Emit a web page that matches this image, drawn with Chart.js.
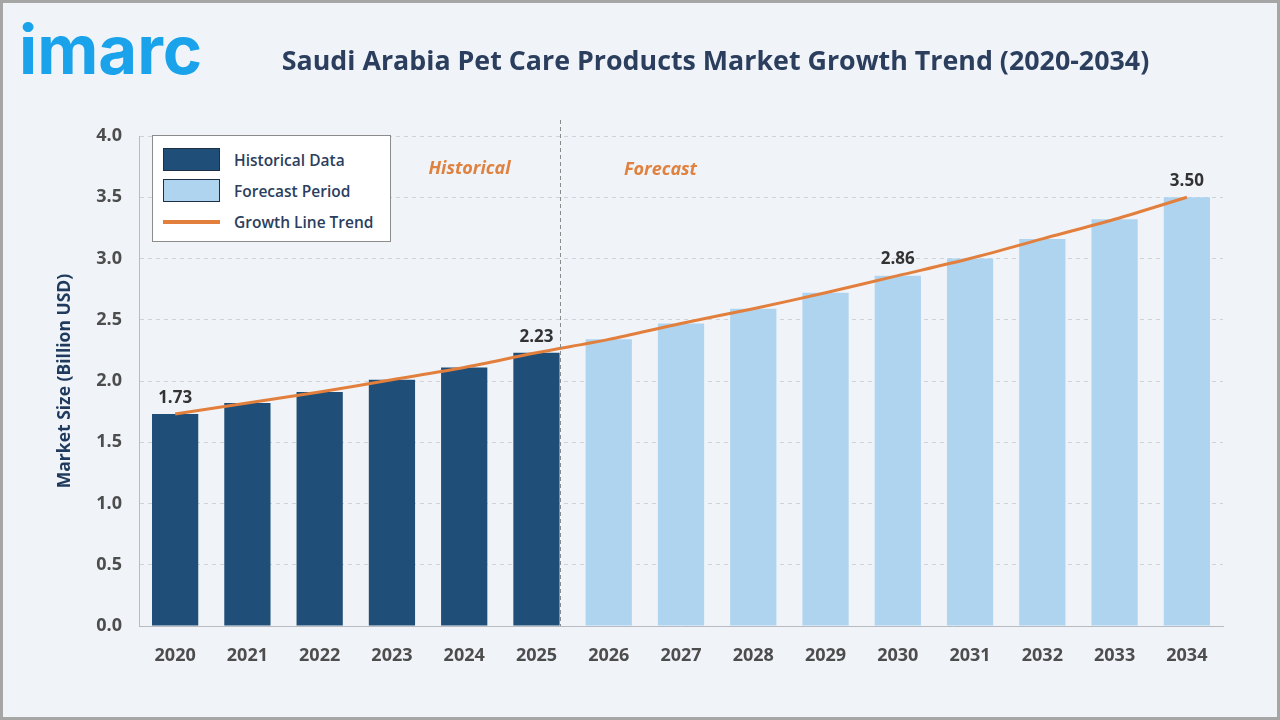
<!DOCTYPE html>
<html>
<head>
<meta charset="utf-8">
<script src="https://cdn.jsdelivr.net/npm/chart.js@4.4.0/dist/chart.umd.min.js"></script>
<style>
  html, body { margin: 0; padding: 0; }
  body { width: 1280px; height: 720px; overflow: hidden; background: #f0f4f9; font-family: "Open Sans", sans-serif; }
  #frame { position: absolute; left: 0; top: 0; width: 1274px; height: 714px; border: 3px solid #a6a6a6; background: #f0f4f9; }
  #chart { position: absolute; left: -3px; top: -3px; }
  #logo { position: absolute; left: 16px; top: 7px; font-family: Inter, sans-serif; font-weight: 700; font-size: 67px; color: #1aa3ea; line-height: 80px; }
  #title { position: absolute; left: 278px; top: 37px; width: 869px; text-align: center; white-space: nowrap; font-weight: 700; color: #2b3e5e; line-height: 40px; }
  #legend { position: absolute; left: 149px; top: 132px; width: 237px; height: 105px; background: #ffffff; border: 1px solid #8c8c8c; }
  .item { position: absolute; left: 10px; height: 24px; display: flex; align-items: center; font-size: 15.5px; font-weight: 600; color: #2b3e5e; white-space: nowrap; }
  .sw { width: 57px; height: 23px; margin-right: 14px; box-sizing: border-box; border: 1px solid #1c2f45; }
  .ln { width: 57px; height: 4px; margin-right: 14px; }
</style>
</head>
<body>
<div id="frame">
  <canvas id="chart" width="1280" height="720"></canvas>
  <div id="logo">imarc</div>
  <div id="title">Saudi Arabia Pet Care Products Market Growth Trend (2020-2034)</div>
  <div id="legend"></div>
</div>
<script>
const years = ['2020', '2021', '2022', '2023', '2024', '2025', '2026', '2027',
               '2028', '2029', '2030', '2031', '2032', '2033', '2034'];
const historical = [1.73, 1.82, 1.91, 2.01, 2.11, 2.23];
const forecast = [2.34, 2.47, 2.59, 2.72, 2.86, 3.00, 3.16, 3.32, 3.50];
const trendLine = [1.73, 1.82, 1.91, 2.01, 2.11, 2.23, 2.34, 2.47, 2.59, 2.72, 2.86, 3.00, 3.16, 3.32, 3.50];
const labelledYears = ['2020', '2025', '2030', '2034'];
const yTicks = [0, 0.5, 1.0, 1.5, 2.0, 2.5, 3.0, 3.5, 4.0];

const histColor = '#1f4e78';
const foreColor = '#aed4ef';
const lineColor = '#e37f3c';

// fit title text to the width it takes in the picture
(function fitTitle() {
  const el = document.getElementById('title');
  const c = document.createElement('canvas').getContext('2d');
  c.font = '700 26px "Open Sans"';
  const w = c.measureText(el.textContent).width;
  el.style.fontSize = Math.min(27, 26 * 869 / w).toFixed(1) + 'px';
})();

const histData = years.map((y, i) => i < historical.length ? historical[i] : null);
const foreData = years.map((y, i) => i >= historical.length ? forecast[i - historical.length] : null);

// labels over chosen bars, divider line and period captions
const overlay = {
  id: 'overlay',
  afterDatasetsDraw(chart) {
    const ctx = chart.ctx;
    const area = chart.chartArea;
    ctx.save();
    ctx.font = '700 17px "Open Sans"';
    ctx.fillStyle = '#333333';
    ctx.textAlign = 'center';
    ctx.textBaseline = 'middle';
    labelledYears.forEach(y => {
      const i = years.indexOf(y);
      const dsIndex = i < historical.length ? 0 : 1;
      const bar = chart.getDatasetMeta(dsIndex).data[i];
      ctx.fillText(trendLine[i].toFixed(2), bar.x, bar.y - 16);
    });

    const last = chart.getDatasetMeta(0).data[historical.length - 1];
    const dx = Math.round(last.x + last.width / 2) + 0.5;
    ctx.strokeStyle = '#8a8a8a';
    ctx.lineWidth = 1;
    ctx.setLineDash([4, 3]);
    ctx.beginPath();
    ctx.moveTo(dx, area.top - 16);
    ctx.lineTo(dx, area.bottom);
    ctx.stroke();
    ctx.setLineDash([]);

    ctx.font = 'italic 700 18px "Open Sans"';
    ctx.fillStyle = '#e0823f';
    ctx.fillText('Historical', dx - 91, area.top + 33);
    ctx.fillText('Forecast', dx + 100, area.top + 34);
    ctx.restore();
  }
};

const chart = new Chart(document.getElementById('chart'), {
  type: 'bar',
  data: {
    labels: years,
    datasets: [
      {
        label: 'Historical Data',
        data: histData,
        backgroundColor: histColor,
        grouped: false,
        barPercentage: 0.64,
        categoryPercentage: 1,
        order: 2
      },
      {
        label: 'Forecast Period',
        data: foreData,
        backgroundColor: foreColor,
        grouped: false,
        barPercentage: 0.64,
        categoryPercentage: 1,
        order: 2
      },
      {
        type: 'line',
        label: 'Growth Line Trend',
        data: trendLine,
        borderColor: lineColor,
        backgroundColor: lineColor,
        borderWidth: 3,
        pointRadius: 0,
        tension: 0.3,
        fill: false,
        order: 1
      }
    ]
  },
  options: {
    responsive: false,
    animation: false,
    devicePixelRatio: 1,
    layout: { padding: { top: 136, right: 57, left: 0, bottom: 0 } },
    plugins: {
      legend: { display: false },
      title: { display: false },
      tooltip: { enabled: false }
    },
    scales: {
      x: {
        grid: { display: false },
        border: { display: true, color: '#b8bcc2', width: 1 },
        ticks: {
          color: '#4d4d4d',
          font: { family: 'Open Sans', size: 18, weight: '700' },
          padding: 11,
          maxRotation: 0
        },
        afterFit(scale) { scale.height = 94; }
      },
      y: {
        min: 0,
        max: 4,
        afterBuildTicks(scale) { scale.ticks = yTicks.map(v => ({ value: v })); },
        grid: { color: '#cfd3d9', lineWidth: 1, drawTicks: false },
        border: { display: true, color: '#b8bcc2', width: 1, dash: [4, 4] },
        ticks: {
          color: '#4d4d4d',
          font: { family: 'Open Sans', size: 18, weight: '700' },
          padding: 17,
          callback: v => Number(v).toFixed(1)
        },
        title: {
          display: true,
          text: 'Market Size (Billion USD)',
          color: '#1f3a5c',
          font: { family: 'Open Sans', size: 17.5, weight: '700' },
          padding: { top: 55, bottom: 0 }
        },
        afterFit(scale) { scale.width = 139; }
      }
    }
  },
  plugins: [overlay]
});

// legend built from the chart's datasets
const legend = document.getElementById('legend');
chart.data.datasets.forEach((ds, i) => {
  const item = document.createElement('div');
  item.className = 'item';
  item.style.top = (11.5 + i * 31) + 'px';
  const sw = document.createElement('span');
  if (ds.type === 'line') {
    sw.className = 'ln';
    sw.style.background = ds.borderColor;
  } else {
    sw.className = 'sw';
    sw.style.background = ds.backgroundColor;
  }
  item.appendChild(sw);
  item.appendChild(document.createTextNode(ds.label));
  legend.appendChild(item);
});
</script>
</body>
</html>
